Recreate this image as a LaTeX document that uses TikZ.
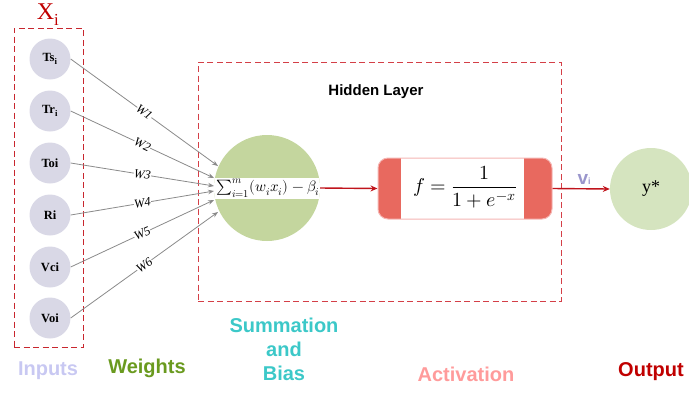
\documentclass[tikz,border=0pt]{standalone}
\usepackage{fontspec}
\usepackage{unicode-math}
\setmainfont{Liberation Serif}
\setsansfont{Liberation Sans}
\setmathfont{Latin Modern Math}
\usetikzlibrary{arrows.meta}
\definecolor{dred}{HTML}{C8262E}
\definecolor{hred}{HTML}{D43F47}
\definecolor{inpfill}{HTML}{D9D8E6}
\definecolor{sumfill}{HTML}{C4D69E}
\definecolor{outfill}{HTML}{D5E4BF}
\definecolor{actred}{HTML}{E8695F}
\definecolor{actpink}{HTML}{F5B5B3}
\definecolor{arrred}{HTML}{C0141C}
\definecolor{cinputs}{HTML}{C8C8F2}
\definecolor{cweights}{HTML}{6A9A1F}
\definecolor{csum}{HTML}{3CC8C8}
\definecolor{cact}{HTML}{FF9B9B}
\definecolor{cout}{HTML}{C00000}
\definecolor{cv}{HTML}{9A96CC}
\definecolor{lgray}{HTML}{8A8A8A}
\begin{document}
\begin{tikzpicture}[x=1pt,y=-1pt,
  dbox/.style={dashed, dash pattern=on 6pt off 3.5pt, line width=1pt, inner sep=0pt},
  inp/.style={circle, fill=inpfill, minimum size=41pt, inner sep=0pt, font=\fontsize{12.5}{14}\selectfont\bfseries},
  wline/.style={draw=lgray, line width=0.8pt, -{Stealth[length=6pt,width=4.5pt]}},
  wlab/.style={midway, sloped, fill=white, inner sep=0.3pt, font=\fontsize{12.5}{14}\selectfont\itshape},
  redarr/.style={draw=arrred, line width=1.4pt, -{Stealth[length=7pt,width=6pt]}},
  biglab/.style={font=\fontsize{20}{24}\selectfont\sffamily\bfseries, align=center}
]
\useasboundingbox (0,0) rectangle (689,392);

% boxes
\node[dbox, draw=dred, minimum width=69pt, minimum height=319pt] (inbox) at (48.5,187.5) {};
\node[dbox, draw=hred, minimum width=363pt, minimum height=239pt] (hbox) at (379.5,181.5) {};
\node[text=cout, font=\fontsize{24}{26}\selectfont] (xi) at (48,15) {X\textsubscript{i}};
\node[font=\fontsize{15}{17}\selectfont\sffamily\bfseries] (hl) at (376,92) {Hidden Layer};

% inputs
\node[inp] (ts) at (50,59) {Ts\textsubscript{i}};
\node[inp] (tr) at (50,111) {Tr\textsubscript{i}};
\node[inp] (toi) at (50,163) {Toi};
\node[inp] (ri) at (50,215) {Ri};
\node[inp] (vci) at (50,267) {Vci};
\node[inp] (voi) at (50,318) {Voi};

% summation
\node[circle, fill=sumfill, minimum size=106pt, inner sep=0pt,
  path picture={\fill[white] ([yshift=-10.5pt]path picture bounding box.west) rectangle ([yshift=10.5pt]path picture bounding box.east);}] (sum) at (267,188) {};
\node[inner sep=0pt, font=\fontsize{15}{17}\selectfont] (sumf) at (268,188) {$\sum_{i=1}^{m}(w_i x_i)-\beta_i$};

\coordinate (e1) at (218,166);
\coordinate (e2) at (214,178);
\coordinate (e3) at (214,186);
\coordinate (e4) at (214,191);
\coordinate (e5) at (214,200);
\coordinate (e6) at (218,212);

\draw[wline] (ts.east) -- (e1) node[wlab] {W1};
\draw[wline] (tr.east) -- (e2) node[wlab] {W2};
\draw[wline] (toi.east) -- (e3) node[wlab] {W3};
\draw[wline] (ri.east) -- (e4) node[wlab] {W4};
\draw[wline] (vci.east) -- (e5) node[wlab] {W5};
\draw[wline] (voi.east) -- (e6) node[wlab] {W6};

% activation
\node[draw=actpink, fill=white, line width=1pt, rounded corners=10pt, minimum width=174pt, minimum height=61pt, inner sep=0pt,
  path picture={\fill[actred, sharp corners] (path picture bounding box.south west) rectangle ([xshift=23pt]path picture bounding box.north west);
                \fill[actred, sharp corners] ([xshift=-28pt]path picture bounding box.south east) rectangle (path picture bounding box.north east);}] (act) at (465,188.5) {};
\node[inner sep=0pt, font=\fontsize{20}{24}\selectfont] (actf) at (465,187) {$\displaystyle f=\frac{1}{1+e^{-x}}$};

\draw[redarr] (sum.east) -- (act.west);

% output
\node[circle, fill=outfill, minimum size=82pt, inner sep=0pt, font=\fontsize{18}{20}\selectfont] (out) at (651,189) {y*};
\draw[redarr] (act.east) -- (out.west) node[midway, above=0pt, text=cv, font=\fontsize{19}{21}\selectfont\sffamily\bfseries, xshift=3pt] {v{\fontsize{9}{10}\selectfont i}};

% bottom labels
\node[biglab, text=cinputs] (linp) at (48,371) {Inputs};
\node[biglab, text=cweights] (lw) at (147,368) {Weights};
\node[biglab, text=csum] (lsum) at (284,349) {Summation\\and\\Bias};
\node[biglab, text=cact] (lact) at (466,374) {Activation};
\node[biglab, text=cout] (lout) at (651,372) {Output};
\end{tikzpicture}
\end{document}
